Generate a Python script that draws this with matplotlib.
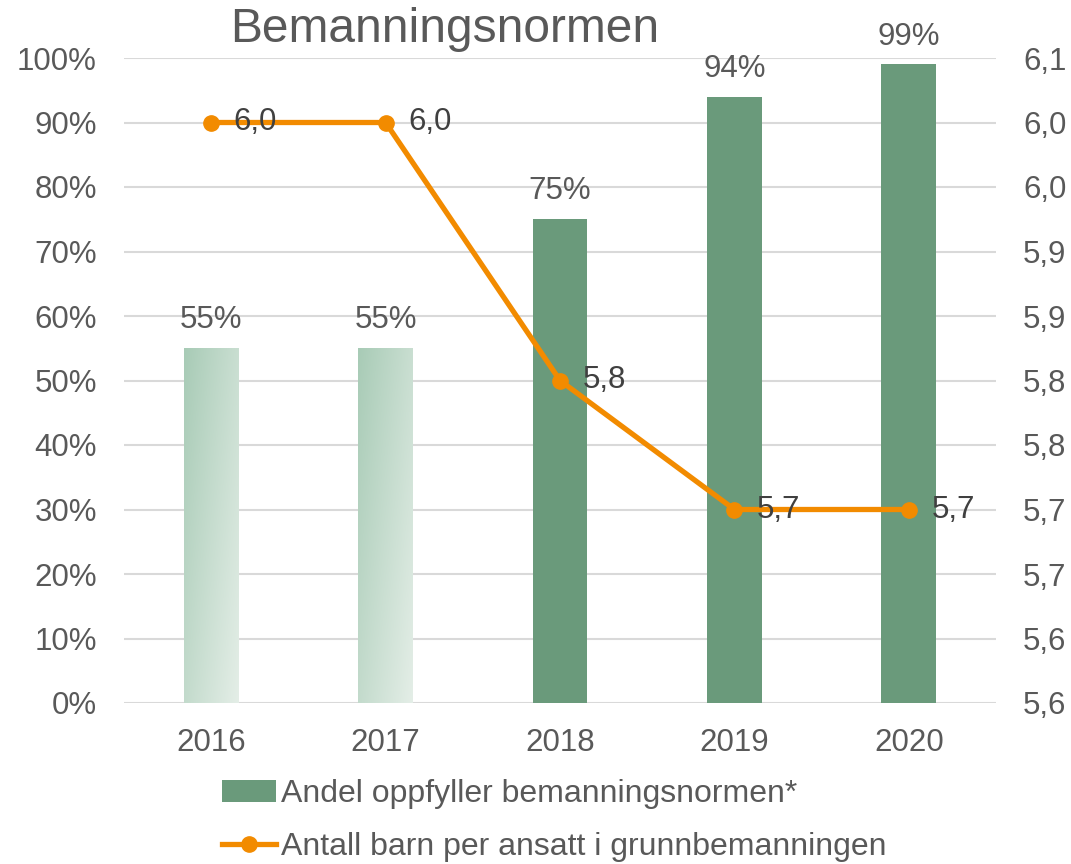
import numpy as np
import matplotlib
matplotlib.use("Agg")
import matplotlib.pyplot as plt
from matplotlib.colors import LinearSegmentedColormap
from matplotlib.lines import Line2D
from matplotlib.patches import Patch

plt.rcParams['font.family'] = ['Liberation Sans', 'DejaVu Sans']

years = ['2016', '2017', '2018', '2019', '2020']
andel = [55, 55, 75, 94, 99]
barn_per_ansatt = [6.0, 6.0, 5.8, 5.7, 5.7]
gradient_bars = [True, True, False, False, False]

GRAY = '#595959'
DARK = '#404040'
GREEN = '#6A9A7B'
ORANGE = '#F28B00'
GRID = '#D9D9D9'
FS = 22.5

fig = plt.figure(figsize=(10.71, 8.64), dpi=100)
ax = fig.add_axes([124 / 1071, 1 - 703 / 864, 872 / 1071, 645 / 864])
x = np.arange(len(years))
width = 0.315

bars = ax.bar(x, andel, width=width, color=GREEN, zorder=2)
grad_cmap = LinearSegmentedColormap.from_list('g', ['#A8CBB6', '#E4EEE7'])
for b, g in zip(bars, gradient_bars):
    if not g:
        continue
    b.set_facecolor('none')
    x0, y0 = b.get_x(), b.get_y()
    w, h = b.get_width(), b.get_height()
    gx, gy = np.meshgrid(np.linspace(0, 1, 50), np.linspace(0, 1, 200))
    z = 0.55 * gx + 0.45 * gy
    im = ax.imshow(z, extent=[x0, x0 + w, y0, y0 + h], origin='upper',
                   cmap=grad_cmap, aspect='auto', zorder=2, vmin=0, vmax=1)
    im.set_clip_path(b)

for xi, v in zip(x, andel):
    ax.text(xi, v + 2.0, f'{v}%', ha='center', va='bottom', fontsize=FS, color=GRAY, zorder=5)

ax.set_xlim(-0.5, len(years) - 0.5)
ax.set_ylim(0, 100)
ax.set_yticks(np.arange(0, 101, 10))
ax.set_yticklabels([f'{t}%' for t in range(0, 101, 10)])
ax.set_xticks(x)
ax.set_xticklabels(years)
ax.yaxis.grid(True, color=GRID, linewidth=1.5, zorder=0)
ax.set_axisbelow(True)
for s in ax.spines.values():
    s.set_visible(False)
ax.tick_params(axis='both', length=0, labelsize=FS, colors=GRAY, pad=19.5)
ax.tick_params(axis='x', pad=18)

ax2 = ax.twinx()
ax2.set_ylim(5.55, 6.05)
rt = np.linspace(5.55, 6.05, 11)
ax2.set_yticks(rt)
ax2.set_yticklabels([f'{np.floor(t * 10 + 0.5 + 1e-9) / 10:.1f}'.replace('.', ',') for t in rt])
for s in ax2.spines.values():
    s.set_visible(False)
ax2.tick_params(axis='y', length=0, labelsize=FS, colors=GRAY, pad=19.5)
ax2.plot(x, barn_per_ansatt, color=ORANGE, linewidth=3.8, marker='o', markersize=11, zorder=4)
for xi, v in zip(x, barn_per_ansatt):
    ax2.text(xi + 0.13, v, f'{v:.1f}'.replace('.', ','), ha='left', va='center',
             fontsize=FS, color=DARK, zorder=5)

fig.text(445 / 1071, 1 - 29 / 864, 'Bemanningsnormen', ha='center', va='center',
         fontsize=34.5, color=GRAY)

handles = [Patch(facecolor=GREEN, edgecolor='none'),
           Line2D([0], [0], color=ORANGE, linewidth=3.8, marker='o', markersize=11)]
labels = ['Andel oppfyller bemanningsnormen*', 'Antall barn per ansatt i grunnbemanningen']
fig.legend(handles, labels, loc='upper left', bbox_to_anchor=(222 / 1071, 1 - 779 / 864),
           frameon=False, fontsize=23, labelcolor=GRAY, handlelength=1.7,
           handletextpad=0.15, labelspacing=0.72, borderpad=0, borderaxespad=0)

fig.savefig('out.png', dpi=100)
